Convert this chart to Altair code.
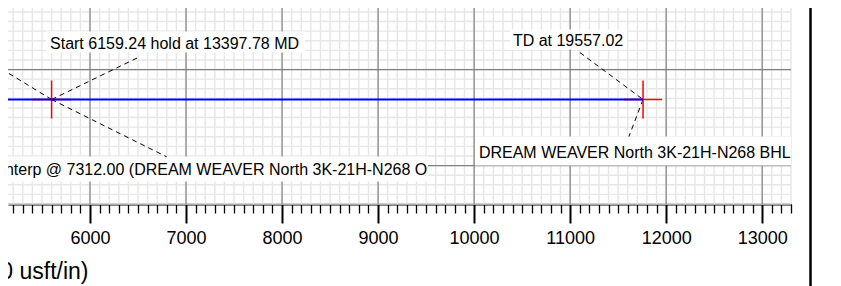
import altair as alt
import pandas as pd

# ---- data (vertical section, usft ; TVD, usft) ----
path_vs = [5000.0, 5600.0, 11759.24]
path_tvd = [7312.0, 7312.0, 7312.0]

marker_name = ["Start hold", "TD"]
marker_vs = [5600.0, 11759.24]
marker_tvd = [7312.0, 7312.0]

label_name = ["start", "td", "interp", "bhl"]
label_text = [
    "Start 6159.24 hold at 13397.78 MD",
    "TD at 19557.02",
    "Interp @ 7312.00 (DREAM WEAVER North 3K-21H-N268 O",
    "DREAM WEAVER North 3K-21H-N268 BHL",
]
label_vs = [5583.5, 10404.0, 9512.0, 10050.0]
label_tvd = [6786.5, 6757.0, 8101.5, 7919.0]

box_vs0 = [5542.0, 10373.0, 4900.0, 10009.0]
box_vs1 = [8239.0, 11591.0, 9519.0, 13362.0]
box_tvd0 = [6604.0, 6583.0, 7906.0, 7698.0]
box_tvd1 = [6823.0, 6792.0, 8166.0, 8000.0]

leader_vs0 = [5600.0, 5600.0, 5600.0, 11102.0, 11759.24]
leader_tvd0 = [7312.0, 7312.0, 7312.0, 6823.0, 7312.0]
leader_vs1 = [6510.0, 5063.0, 6799.0, 11759.24, 11612.0]
leader_tvd1 = [6870.0, 6984.0, 7909.0, 7312.0, 7698.0]

major_x = [6000, 7000, 8000, 9000, 10000, 11000, 12000, 13000]
major_y = [7000, 8000]
minor_x = list(range(5200, 13301, 100))
minor_y = list(range(6400, 8401, 100))

axis_title = "Vertical Section at 90.00\u00b0 (1000 usft/in)"

FONT = "Liberation Sans"

path_df = pd.DataFrame({"vs": path_vs, "tvd": path_tvd})
marker_df = pd.DataFrame({"name": marker_name, "vs": marker_vs, "tvd": marker_tvd})
label_df = pd.DataFrame({"name": label_name, "text": label_text, "vs": label_vs, "tvd": label_tvd})
box_df = pd.DataFrame({"vs": box_vs0, "vs2": box_vs1, "tvd": box_tvd0, "tvd2": box_tvd1})
leader_df = pd.DataFrame({"vs": leader_vs0, "tvd": leader_tvd0, "vs2": leader_vs1, "tvd2": leader_tvd1})
minor_x_df = pd.DataFrame({"vs": minor_x})
minor_y_df = pd.DataFrame({"tvd": minor_y})
major_x_df = pd.DataFrame({"vs": major_x})
major_y_df = pd.DataFrame({"tvd": major_y})

is_major = "datum.value % 1000 === 0"

xscale = alt.Scale(domain=[5146, 13300], nice=False, zero=False)
yscale = alt.Scale(domain=[6359, 8400], reverse=True, nice=False, zero=False)

X = alt.X(
    "vs:Q",
    scale=xscale,
    axis=alt.Axis(
        values=minor_x,
        grid=False,
        ticks=True,
        tickColor="#000000",
        tickSize=alt.condition(is_major, alt.value(19), alt.value(9)),
        tickWidth=alt.condition(is_major, alt.value(2), alt.value(1.3)),
        domain=True,
        domainColor="#000000",
        domainWidth=2,
        labelExpr="datum.value % 1000 === 0 ? datum.label : ''",
        format="d",
        labelFont=FONT,
        labelFontSize=18,
        labelColor="#000000",
        labelBaseline="alphabetic",
        labelPadding=20,
        labelOverlap=False,
        labelFlush=False,
        title=axis_title,
        titleFont=FONT,
        titleFontSize=23,
        titleFontWeight="normal",
        titleColor="#000000",
        titleAlign="right",
        titleBaseline="alphabetic",
        titleX=80,
        titleY=74,
    ),
)
Y = alt.Y("tvd:Q", scale=yscale, axis=None)

grid_minor_v = alt.Chart(minor_x_df).mark_rule(color="#e6e6e6", strokeWidth=1.4).encode(x=X)
grid_minor_h = alt.Chart(minor_y_df).mark_rule(color="#e6e6e6", strokeWidth=1.4).encode(y=Y)
grid_major_v = alt.Chart(major_x_df).mark_rule(color="#808080", strokeWidth=1.2).encode(x=X)
grid_major_h = alt.Chart(major_y_df).mark_rule(color="#808080", strokeWidth=1.2).encode(y=Y)

boxes = alt.Chart(box_df).mark_rect(fill="white", stroke=None, clip=True).encode(
    x=X, x2="vs2:Q", y=Y, y2="tvd2:Q"
)

leaders = alt.Chart(leader_df).mark_rule(
    color="#000000", strokeWidth=1, strokeDash=[5, 4], clip=True
).encode(x=X, x2="vs2:Q", y=Y, y2="tvd2:Q")

markers = alt.Chart(marker_df).mark_point(
    shape="M-1,0H1M0,-1V1", size=1444, filled=False, stroke="#ff0000",
    strokeWidth=1.5, opacity=1, clip=True
).encode(x=X, y=Y)

path = alt.Chart(path_df).mark_line(color="#0000ff", strokeWidth=2.2, clip=True).encode(
    x=X, y=Y
)

text_left = alt.Chart(label_df).transform_filter(
    "datum.name !== 'interp'"
).mark_text(
    align="left", baseline="alphabetic", font=FONT, fontSize=16, color="#000000"
).encode(x=X, y=Y, text="text:N")

text_right = alt.Chart(label_df).transform_filter(
    "datum.name === 'interp'"
).mark_text(
    align="right", baseline="alphabetic", font=FONT, fontSize=16, color="#000000"
).encode(x=X, y=Y, text="text:N")

frame = alt.Chart(pd.DataFrame({"k": [0]})).mark_rule(
    color="#000000", strokeWidth=2.5
).encode(x=alt.value(802.5), y=alt.value(-20), y2=alt.value(300))

chart = alt.layer(
    grid_minor_v, grid_minor_h, grid_major_v, grid_major_h,
    boxes, leaders, markers, path, text_left, text_right, frame
).properties(
    width=783,
    height=196,
    padding={"left": 0, "top": 0, "right": 30, "bottom": 82},
    autosize=alt.AutoSizeParams(type="none"),
).configure_view(stroke=None)

chart.save("out.html", embed_options={"renderer": "svg", "actions": False})
